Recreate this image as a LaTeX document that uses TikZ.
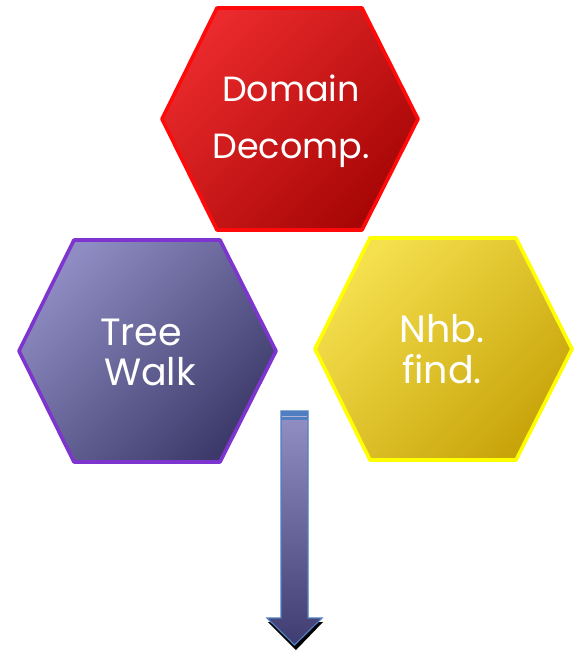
\documentclass[tikz,border=0pt]{standalone}
\usepackage{fontspec}
\setmainfont{Poppins}
\begin{document}
\begin{tikzpicture}[x=1pt,y=-1pt,
  hexlabel/.style={text=white,align=center,inner sep=0pt},
  hexborder/.style={line width=3.6pt,line join=round},
]
\definecolor{redA}{HTML}{EA2A2C}
\definecolor{redB}{HTML}{A80606}
\definecolor{redE}{HTML}{FF0A0A}
\definecolor{purA}{HTML}{8E8CC2}
\definecolor{purB}{HTML}{3D3A6B}
\definecolor{purE}{HTML}{7E34CE}
\definecolor{yelA}{HTML}{F5E04E}
\definecolor{yelB}{HTML}{C8A40A}
\definecolor{yelE}{HTML}{FFFF00}
\definecolor{arrA}{HTML}{9290C4}
\definecolor{arrB}{HTML}{3E3C70}
\definecolor{arrE}{HTML}{4F7FC0}
\useasboundingbox (0,0) rectangle (575,652);
% red hexagon
\shade[top color=redA,bottom color=redB,shading angle=45]
  (217,8) -- (362,8) -- (418,119) -- (362,230) -- (217,230) -- (162,119) -- cycle;
\draw[redE,hexborder]
  (217,8) -- (362,8) -- (418,119) -- (362,230) -- (217,230) -- (162,119) -- cycle;
\node[hexlabel,font=\fontsize{35}{57}\selectfont] (dd) at (291,121) {Domain\\Decomp.};
% purple hexagon
\shade[top color=purA,bottom color=purB,shading angle=45]
  (74,240) -- (220,240) -- (276,351) -- (220,462) -- (74,462) -- (19,351) -- cycle;
\draw[purE,hexborder]
  (74,240) -- (220,240) -- (276,351) -- (220,462) -- (74,462) -- (19,351) -- cycle;
\node[hexlabel,font=\fontsize{38}{40}\selectfont] (tw) at (141,352) {Tree\\\hspace*{18pt}Walk};
% yellow hexagon
\shade[top color=yelA,bottom color=yelB,shading angle=45]
  (370,238) -- (516,238) -- (572,349) -- (516,460) -- (370,460) -- (315,349) -- cycle;
\draw[yelE,hexborder]
  (370,238) -- (516,238) -- (572,349) -- (516,460) -- (370,460) -- (315,349) -- cycle;
\node[hexlabel,font=\fontsize{38}{41}\selectfont] (nf) at (442,349) {Nhb.\\find.};
% arrow
\fill[black] (282,622) -- (268,622) -- (296,650) -- (323,622) -- (309,622) -- cycle;
\shade[top color=arrA,bottom color=arrB]
  (281,411) -- (308,411) -- (308,618) -- (322,618) -- (294.5,645) -- (267,618) -- (281,618) -- cycle;
\fill[arrE] (281,411) rectangle (308,420);
\draw[arrA!70!white,line width=0.8pt] (282,416) -- (307,416);
\draw[arrE,line width=1.2pt,line join=miter]
  (281,411) -- (308,411) -- (308,618) -- (322,618) -- (294.5,645) -- (267,618) -- (281,618) -- cycle;
\end{tikzpicture}
\end{document}
